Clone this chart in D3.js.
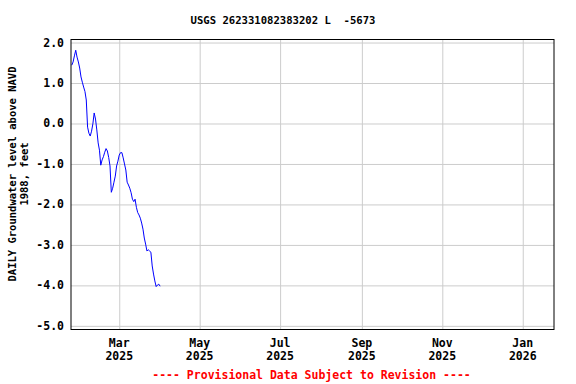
<!DOCTYPE html>
<html><head><meta charset="utf-8">
<script src="https://cdn.jsdelivr.net/npm/d3@7"></script>
<style>
body{margin:0;background:#fff;}
svg{display:block;}
text{font-family:"DejaVu Sans Mono",monospace;font-weight:bold;fill:#000;}
</style></head>
<body><svg id="c" width="576" height="384"></svg>
<script>
const title = "USGS 262331082383202 L  -5673";
const yLabelLines = ["DAILY Groundwater level above NAVD", "1988, feet"];
const footer = "---- Provisional Data Subject to Revision ----";
const yTicks = [2.0, 1.0, 0.0, -1.0, -2.0, -3.0, -4.0, -5.0];
const xTickDates = ["2025-03-01","2025-05-01","2025-07-01","2025-09-01","2025-11-01","2026-01-01"];
const xTickMonths = ["Mar","May","Jul","Sep","Nov","Jan"];
const xTickYears = ["2025","2025","2025","2025","2025","2026"];
const dates = [
"2025-01-24","2025-01-25","2025-01-26","2025-01-27","2025-01-28","2025-01-29","2025-01-30","2025-01-31",
"2025-02-01","2025-02-02","2025-02-03","2025-02-04","2025-02-05","2025-02-06","2025-02-07","2025-02-08",
"2025-02-09","2025-02-10","2025-02-11","2025-02-12","2025-02-13","2025-02-14","2025-02-15","2025-02-16",
"2025-02-17","2025-02-18","2025-02-19","2025-02-20","2025-02-21","2025-02-22","2025-02-23","2025-02-24",
"2025-02-25","2025-02-26","2025-02-27","2025-02-28",
"2025-03-01","2025-03-02","2025-03-03","2025-03-04","2025-03-05","2025-03-06","2025-03-07","2025-03-08",
"2025-03-09","2025-03-10","2025-03-11","2025-03-12","2025-03-13","2025-03-14","2025-03-15","2025-03-16",
"2025-03-17","2025-03-18","2025-03-19","2025-03-20","2025-03-21","2025-03-22","2025-03-23","2025-03-24",
"2025-03-25","2025-03-26","2025-03-27","2025-03-28","2025-03-29","2025-03-30","2025-03-31","2025-04-01"];
const levels = [
1.44,1.52,1.67,1.81,1.64,1.52,1.37,1.15,
1.02,0.90,0.79,0.58,-0.09,-0.24,-0.31,-0.19,
-0.01,0.26,0.11,-0.16,-0.48,-0.66,-1.03,-0.90,
-0.82,-0.71,-0.62,-0.68,-0.84,-1.05,-1.70,-1.60,
-1.45,-1.30,-1.05,-0.93,
-0.78,-0.72,-0.72,-0.85,-1.00,-1.15,-1.45,-1.52,
-1.60,-1.71,-1.87,-1.93,-1.87,-2.07,-2.20,-2.26,
-2.34,-2.46,-2.61,-2.83,-2.98,-3.15,-3.12,-3.15,
-3.18,-3.52,-3.72,-3.89,-4.03,-3.99,-3.97,-4.02];

const svg = d3.select("#c");
const L = 71, R = 554, T = 39.5, B = 329.5;
const parse = d3.timeParse("%Y-%m-%d");
const x = d3.scaleTime()
  .domain([new Date(2025,0,23,10), new Date(2026,0,24,17)])
  .range([L, R]);
const y = d3.scaleLinear().domain([-5.09, 2.075]).range([B, T]);

// grid
const gx = svg.append("g").attr("transform", `translate(0,${B})`)
  .call(d3.axisBottom(x).tickValues(xTickDates.map(parse)).tickSize(-(B - T)).tickFormat(""));
gx.select(".domain").remove();
gx.selectAll("line").attr("stroke", "#cccccc").attr("stroke-width", 1);

const gy = svg.append("g").attr("transform", `translate(${L},0)`)
  .call(d3.axisLeft(y).tickValues(yTicks).tickSize(-(R - L)).tickFormat(""));
gy.select(".domain").remove();
gy.selectAll("line").attr("stroke", "#cccccc").attr("stroke-width", 1);

// y tick labels
svg.append("g").selectAll("text").data(yTicks).join("text")
  .attr("x", 64).attr("y", d => y(d) + 4)
  .attr("text-anchor", "end").style("font-size", "11.5px")
  .text(d => d.toFixed(1));

// x tick labels
const xl = svg.append("g").selectAll("g").data(xTickDates).join("g");
xl.append("text").attr("x", d => x(parse(d))).attr("y", 347)
  .attr("text-anchor", "middle").style("font-size", "11.5px")
  .text((d, i) => xTickMonths[i]);
xl.append("text").attr("x", d => x(parse(d))).attr("y", 360)
  .attr("text-anchor", "middle").style("font-size", "11.5px")
  .text((d, i) => xTickYears[i]);

// data line
const data = dates.map((d, i) => ({date: parse(d), v: levels[i]}));
svg.append("path").datum(data)
  .attr("fill", "none").attr("stroke", "#0000ff").attr("stroke-width", 1)
  .attr("d", d3.line().x(d => x(d.date)).y(d => y(d.v)));

// frame
svg.append("rect").attr("x", L).attr("y", T).attr("width", R - L).attr("height", B - T)
  .attr("fill", "none").attr("stroke", "#000").attr("stroke-width", 1);

// title
svg.append("text").attr("x", 283).attr("y", 24).attr("text-anchor", "middle")
  .style("font-size", "10.6px").style("white-space", "pre").attr("xml:space", "preserve")
  .text(title);

// y label
const yl = svg.append("text").attr("transform", "translate(0,174) rotate(-90)")
  .attr("text-anchor", "middle").style("font-size", "10.5px");
yl.append("tspan").attr("x", 0).attr("y", 16).text(yLabelLines[0]);
yl.append("tspan").attr("x", 0).attr("y", 28).text(yLabelLines[1]);

// footer
svg.append("text").attr("x", 311.5).attr("y", 379).attr("text-anchor", "middle")
  .style("font-size", "11.5px").style("fill", "#ff0000")
  .text(footer);
</script></body></html>
